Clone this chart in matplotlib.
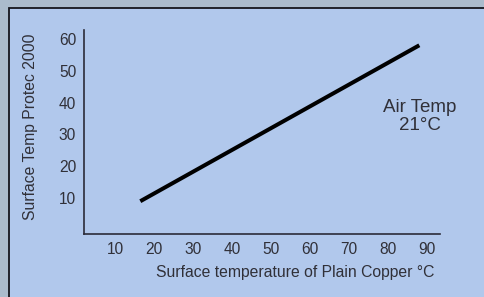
import matplotlib
matplotlib.use("Agg")
import matplotlib.pyplot as plt
from matplotlib.patches import Rectangle

# data
copper_temp = [16.5, 88]      # surface temperature of plain copper, °C
protec_temp = [9, 58]         # surface temperature with Protec 2000, °C
x_ticks = [10, 20, 30, 40, 50, 60, 70, 80, 90]
y_ticks = [10, 20, 30, 40, 50, 60]

plt.rcParams['font.family'] = ['Liberation Sans', 'DejaVu Sans']
W, H = 485, 297
fig = plt.figure(figsize=(W / 100, H / 100), dpi=100)
fig.patch.set_facecolor("#abbbcc")

# light blue panel with a dark border, running off the right and bottom edges
panel = Rectangle((9.5 / W, -0.05), 1.1, 1 - 7.5 / H + 0.05, transform=fig.transFigure,
                  facecolor="#b1c8ec", edgecolor="#15151c", linewidth=1.3, zorder=-1)
fig.patches.append(panel)

ax = fig.add_axes([84.5 / W, 1 - 234 / H, (440 - 84.5) / W, (234 - 30) / H])
ax.set_zorder(2)
ax.set_facecolor("none")
ax.plot(copper_temp, protec_temp, color="black", linewidth=2.9, solid_capstyle="butt")

ax.set_xlim(2.2, 93.3)
ax.set_ylim(-1.3, 62.8)
ax.set_xticks(x_ticks)
ax.set_yticks(y_ticks)
ax.tick_params(length=0, labelsize=11.2, labelcolor="#303038")
ax.tick_params(axis="x", pad=6)
ax.tick_params(axis="y", pad=6)

for s in ("top", "right"):
    ax.spines[s].set_visible(False)
for s in ("left", "bottom"):
    ax.spines[s].set_color("#2b2b38")
    ax.spines[s].set_linewidth(1.2)

ax.set_xlabel("Surface temperature of Plain Copper °C", fontsize=11.3, color="#303038", va="center")
ax.xaxis.set_label_coords(0.592, -0.191)
ax.set_ylabel("Surface Temp Protec 2000", fontsize=11.3, color="#303038", va="center")
ax.yaxis.set_label_coords(-0.152, 0.525)

ax.text(0.944, 0.576, "Air Temp\n21°C", transform=ax.transAxes, ha="center", va="center",
        multialignment="center", fontsize=13.5, color="#303038", linespacing=1.15)

fig.savefig("out.png", dpi=100, facecolor=fig.get_facecolor())
